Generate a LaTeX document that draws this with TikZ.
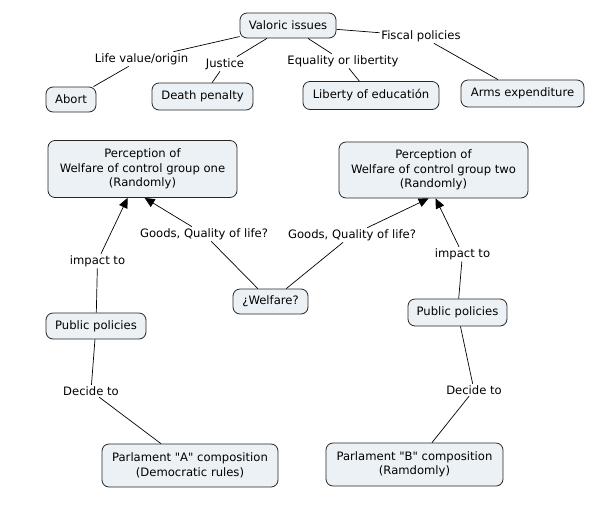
\documentclass[tikz,border=0pt]{standalone}
\usepackage{fontspec}
\setmainfont{DejaVu Sans}[Ligatures=TeXOff]
\usetikzlibrary{arrows.meta,calc}
\definecolor{boxfill}{HTML}{EBF1F4}
\tikzset{
  concept/.style={draw=black!85, line width=0.8pt, fill=boxfill, rounded corners=7pt,
    align=center, inner sep=0pt, font=\fontsize{11.6}{14.5}\selectfont},
  linklabel/.style={inner sep=1.5pt, font=\fontsize{11.6}{14}\selectfont},
  conn/.style={line width=0.7pt, black},
  arr/.style={conn, -{Triangle[length=10pt,width=9pt]}}
}
\begin{document}
\begin{tikzpicture}[x=1pt,y=-1pt]
\useasboundingbox (0,0) rectangle (602,504);
% concepts
\node[concept, minimum width=96, minimum height=25] (val) at (288,25.5) {Valoric issues};
\node[concept, minimum width=50, minimum height=25] (abort) at (71,99.5) {Abort};
\node[concept, minimum width=101, minimum height=27] (death) at (202.5,96.5) {Death penalty};
\node[concept, minimum width=136, minimum height=28] (liberty) at (371,95.5) {Liberty of educatión};
\node[concept, minimum width=123, minimum height=27] (arms) at (522.5,93.5) {Arms expenditure};
\node[concept, minimum width=189, minimum height=57] (perc1) at (142.5,169) {Perception of\\Welfare of control group one\\(Randomly)};
\node[concept, minimum width=189, minimum height=56] (perc2) at (433.5,170) {Perception of\\Welfare of control group two\\(Randomly)};
\node[concept, minimum width=75, minimum height=25] (welf) at (270.5,301.5) {¿Welfare?};
\node[concept, minimum width=100, minimum height=26] (pp1) at (96,326) {Public policies};
\node[concept, minimum width=99, minimum height=27] (pp2) at (457.5,312.5) {Public policies};
\node[concept, minimum width=176, minimum height=43] (parlA) at (190,465.5) {Parlament "A" composition\\(Democratic rules)};
\node[concept, minimum width=177, minimum height=43] (parlB) at (414.5,464.5) {Parlament "B" composition\\(Ramdomly)};
% link labels
\node[linklabel] (life) at (141.5,59) {Life value/origin};
\node[linklabel] (just) at (225,64) {Justice};
\node[linklabel] (equal) at (343,61) {Equality or libertity};
\node[linklabel] (fisc) at (421,36) {Fiscal policies};
\node[linklabel] (goods1) at (204,234) {Goods, Quality of life?};
\node[linklabel] (goods2) at (352,235) {Goods, Quality of life?};
\node[linklabel] (imp1) at (97.5,261) {impact to};
\node[linklabel] (imp2) at (462.5,254) {impact to};
\node[linklabel] (dec1) at (91,391) {Decide to};
\node[linklabel] (dec2) at (474,390) {Decide to};
% connectors
\draw[conn] (val) -- (life);
\draw[conn] (life) -- (abort);
\draw[conn] (val) -- (just);
\draw[conn] (just) -- (death);
\draw[conn] (val) -- (equal);
\draw[conn] (equal) -- (liberty);
\draw[conn] (val) -- (fisc);
\draw[conn] (fisc) -- (arms);
\draw[conn] (welf) -- (goods1);
\draw[conn] (welf) -- (goods2);
\draw[arr] (goods1) -- ($(perc1.south west)+(97,0)$);
\draw[arr] (goods2) -- ($(perc2.south west)+(90,0)$);
\draw[conn] (pp1) -- (imp1);
\draw[arr] (imp1) -- ($(perc1.south west)+(80,0)$);
\draw[conn] (pp2) -- (imp2);
\draw[arr] (imp2) -- ($(perc2.south west)+(97,0)$);
\draw[conn] (pp1) -- (dec1);
\draw[conn] (dec1) -- (parlA);
\draw[conn] (pp2) -- (dec2);
\draw[conn] (dec2) -- (parlB);
\end{tikzpicture}
\end{document}
